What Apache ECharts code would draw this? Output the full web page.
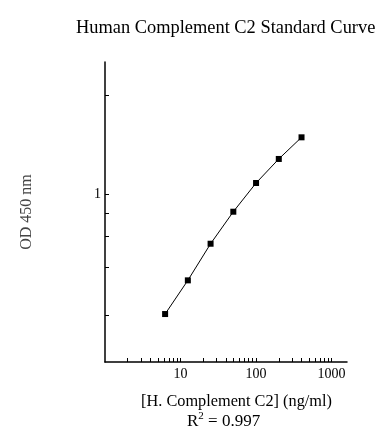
<!DOCTYPE html>
<html>
<head>
<meta charset="utf-8">
<script src="https://cdn.jsdelivr.net/npm/echarts@6/dist/echarts.min.js"></script>
<style>html,body{margin:0;padding:0;background:#fff;}#c{width:391px;height:444px;}</style>
</head>
<body>
<div id="c"></div>
<script>
var concentrations = [6.25, 12.5, 25, 50, 100, 200, 400];
var odValues = [0.233, 0.351, 0.548, 0.809, 1.147, 1.537, 2.0];
var xTickValues = [2,3,4,5,6,7,8,9,10,20,30,40,50,60,70,80,90,100,200,300,400,500,600,700,800,900,1000];
var xLabelValues = [10, 100, 1000];
var yTickValues = [0.23, 0.41, 0.6, 0.79, 1, 3.35];
var yLabelValues = [1];

var FONT = '"Liberation Serif","DejaVu Serif",serif';
var chart = echarts.init(document.getElementById('c'));
var pts = concentrations.map(function(c, i){ return [c, odValues[i]]; });
chart.setOption({
  animation: false,
  backgroundColor: '#fff',
  title: {
    text: 'Human Complement C2 Standard Curve',
    left: 71, top: 14,
    textStyle: {fontFamily: FONT, fontSize: 18.4, fontWeight: 'normal', color: '#000'}
  },
  grid: {left: 105, top: 62, width: 242, height: 300, containLabel: false},
  xAxis: {
    type: 'log', logBase: 10, min: 1, max: 1600,
    axisLine: {show: true, onZero: false, lineStyle: {color: '#000', width: 1.5}},
    axisTick: {show: true, inside: true, length: 4, customValues: xTickValues, lineStyle: {color: '#000'}},
    minorTick: {show: false},
    splitLine: {show: false},
    axisLabel: {customValues: xLabelValues, margin: 5, fontFamily: FONT, fontSize: 14, color: '#000',
      formatter: function(v){ return String(Math.round(v)); }},
    name: '[H. Complement C2] (ng/ml)',
    nameLocation: 'middle', nameGap: 32,
    nameTextStyle: {fontFamily: FONT, fontSize: 16.3, color: '#000', padding: [0,0,0,21]}
  },
  yAxis: {
    type: 'log', logBase: 10, min: 0.13, max: 5,
    axisLine: {show: true, onZero: false, lineStyle: {color: '#000', width: 1.5}},
    axisTick: {show: true, inside: true, length: 4, customValues: yTickValues, lineStyle: {color: '#000'}},
    minorTick: {show: false},
    splitLine: {show: false},
    axisLabel: {customValues: yLabelValues, margin: 4, fontFamily: FONT, fontSize: 14, color: '#000',
      formatter: function(v){ return String(v); }},
    name: 'OD 450 nm',
    nameLocation: 'middle', nameGap: 70, nameRotate: 90,
    nameTextStyle: {fontFamily: FONT, fontSize: 16, color: '#444'}
  },
  graphic: [{
    type: 'text', left: 187, top: 411,
    style: {
      text: '{r|R}{s|2}{r| = 0.997}',
      rich: {
        r: {fontFamily: FONT, fontSize: 17, fill: '#000', verticalAlign: 'bottom'},
        s: {fontFamily: FONT, fontSize: 11, fill: '#000', verticalAlign: 'top', padding: [0,0,8,0]}
      }
    }
  }],
  series: [{
    type: 'line',
    data: pts,
    symbol: 'rect', symbolSize: 6,
    lineStyle: {color: '#000', width: 1},
    itemStyle: {color: '#000'},
    smooth: false
  }]
});
</script>
</body>
</html>
